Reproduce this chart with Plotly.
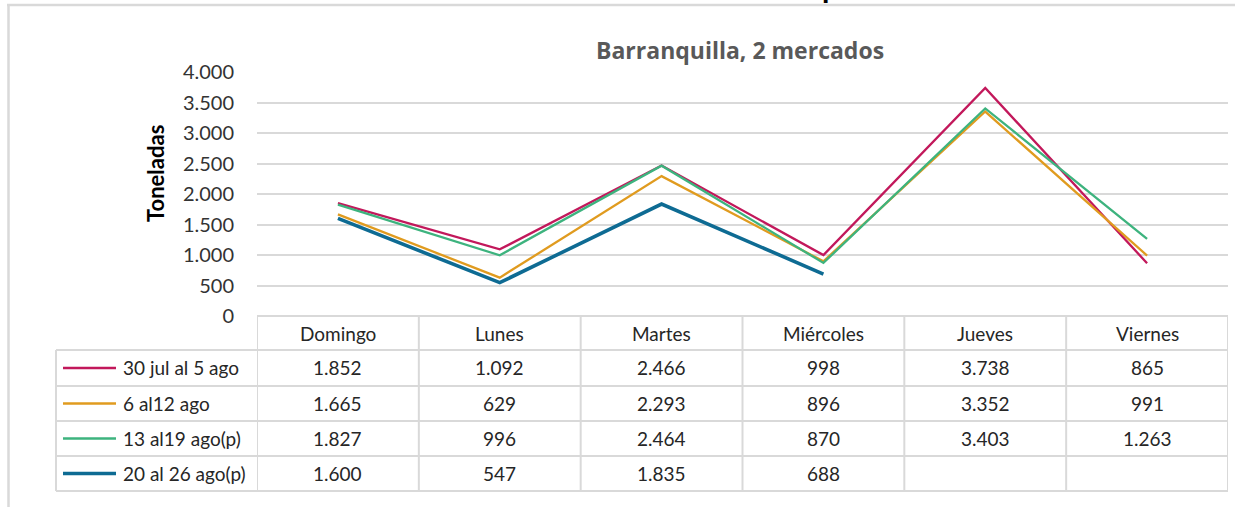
import plotly.graph_objects as go

# ---------------- data ----------------
days = ["Domingo", "Lunes", "Martes", "Miércoles", "Jueves", "Viernes"]
series_names = ["30 jul al 5 ago", "6 al12 ago", "13 al19 ago(p)", "20 al 26 ago(p)"]
s_30jul = [1852, 1092, 2466, 998, 3738, 865]
s_6ago = [1665, 629, 2293, 896, 3352, 991]
s_13ago = [1827, 996, 2464, 870, 3403, 1263]
s_20ago = [1600, 547, 1835, 688, None, None]
y_ticks = [0, 500, 1000, 1500, 2000, 2500, 3000, 3500, 4000]
title_text = "Barranquilla, 2 mercados"
y_title = "Toneladas"

series_values = [s_30jul, s_6ago, s_13ago, s_20ago]
colors = ["#C2185B", "#E09B1F", "#3DB37E", "#0E6B93"]
widths = [2.3, 2.3, 2.3, 3.6]

W, H = 1235, 507
FONT = "Lato"
GRID = "#d9d9d9"
TXT = 19


def py(p):  # pixel row -> paper y
    return (H - p) / H


def px(p):  # pixel col -> paper x
    return p / W


def fmt(v):
    return "" if v is None else f"{v:,}".replace(",", ".")


x_idx = list(range(len(days)))

fig = go.Figure()
for name, vals, c, w in zip(series_names, series_values, colors, widths):
    fig.add_trace(go.Scatter(x=x_idx, y=vals, mode="lines", name=name,
                             line=dict(color=c, width=w), connectgaps=False,
                             showlegend=False, hoverinfo="skip"))

# table geometry (pixels)
row_edges = [316, 350, 386, 421, 456, 491]
leg_left = 56
key_x0, key_x1, text_x = 63, 116, 121

shapes = []
# outer frame (light gray)
shapes.append(dict(type="line", xref="paper", yref="paper", x0=px(7), x1=1.0,
                   y0=py(5), y1=py(5), line=dict(color=GRID, width=2.5)))
shapes.append(dict(type="line", xref="paper", yref="paper", x0=px(8.5), x1=px(8.5),
                   y0=py(5), y1=0, line=dict(color=GRID, width=2.5)))
# vertical column lines of the table
for i in range(len(days) + 1):
    shapes.append(dict(type="line", xref="x", yref="paper", x0=i - 0.5, x1=i - 0.5,
                       y0=py(row_edges[0]), y1=py(row_edges[-1]),
                       line=dict(color=GRID, width=2)))
# legend column left border
shapes.append(dict(type="line", xref="paper", yref="paper", x0=px(leg_left), x1=px(leg_left),
                   y0=py(row_edges[1]), y1=py(row_edges[-1]), line=dict(color=GRID, width=2)))
# horizontal lines
for k, r in enumerate(row_edges):
    if k == 0:
        continue
    shapes.append(dict(type="line", xref="paper", yref="paper", x0=px(leg_left), x1=px(1228),
                       y0=py(r), y1=py(r), line=dict(color=GRID, width=2)))

annotations = []
# header
for i, d in enumerate(days):
    annotations.append(dict(x=i, y=py((row_edges[0] + row_edges[1]) / 2), xref="x", yref="paper",
                            text=d, showarrow=False, xanchor="center", yanchor="middle",
                            font=dict(family=FONT, size=TXT, color="#262626")))
# rows
for k, (name, vals, c, w) in enumerate(zip(series_names, series_values, colors, widths)):
    yc = py((row_edges[k + 1] + row_edges[k + 2]) / 2)
    shapes.append(dict(type="line", xref="paper", yref="paper", x0=px(key_x0), x1=px(key_x1),
                       y0=yc, y1=yc, line=dict(color=c, width=w)))
    annotations.append(dict(x=px(text_x), y=yc, xref="paper", yref="paper", text=name,
                            showarrow=False, xanchor="left", yanchor="middle",
                            font=dict(family=FONT, size=TXT, color="#262626")))
    for i, v in enumerate(vals):
        if v is None:
            continue
        annotations.append(dict(x=i, y=yc, xref="x", yref="paper", text=fmt(v),
                                showarrow=False, xanchor="center", yanchor="middle",
                                font=dict(family=FONT, size=TXT, color="#262626")))

# chart title
annotations.append(dict(x=px(740), y=py(50), xref="paper", yref="paper", text=f"<b>{title_text}</b>",
                        showarrow=False, xanchor="center", yanchor="middle",
                        font=dict(family="Open Sans", size=23, color="#595959")))
# y axis title
annotations.append(dict(x=px(155), y=py(174), xref="paper", yref="paper", text=f"<b>{y_title}</b>",
                        showarrow=False, xanchor="center", yanchor="middle", textangle=-90,
                        font=dict(family=FONT, size=22, color="#000000")))
# clipped remnant of the cut-off main title above
annotations.append(dict(x=px(820), y=1.0, xref="paper", yref="paper", text="<b>p</b>",
                        showarrow=False, xanchor="left", yanchor="bottom", yshift=-6,
                        font=dict(family=FONT, size=30, color="#000000")))

fig.update_layout(
    template="none",
    width=W, height=H,
    margin=dict(l=0, r=0, t=0, b=0, pad=0, autoexpand=False),
    paper_bgcolor="white", plot_bgcolor="white",
    separators=",.",
    showlegend=False,
    shapes=shapes, annotations=annotations,
    xaxis=dict(domain=[px(257), px(1228)], range=[-0.5, len(days) - 0.5],
               showgrid=False, showticklabels=False, zeroline=False, automargin=False,
               showline=False, fixedrange=True),
    yaxis=dict(domain=[py(316), py(72)], range=[0, 4000], tickvals=y_ticks,
               tickformat=",d", showgrid=True, gridcolor=GRID, gridwidth=2,
               zeroline=True, zerolinecolor=GRID, zerolinewidth=2, automargin=False,
               showline=False, ticks="", ticklabelstandoff=22,
               tickfont=dict(family=FONT, size=20, color="#333333"), fixedrange=True),
)

fig.write_html("out.html", config={"displayModeBar": False, "staticPlot": True},
               post_script="document.body.style.margin='0px';")
